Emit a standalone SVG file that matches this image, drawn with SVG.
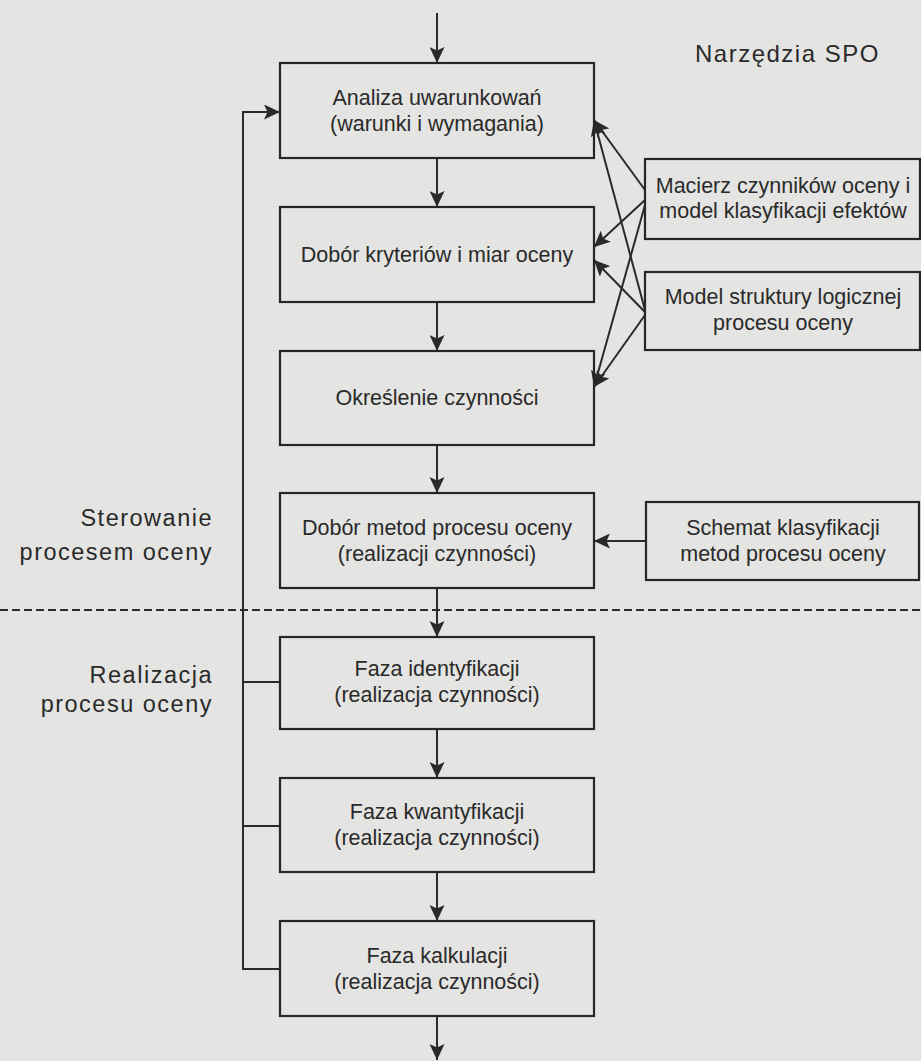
<svg xmlns="http://www.w3.org/2000/svg" width="921" height="1061" viewBox="0 0 921 1061">
  <defs>
    <style>
      .box { fill: none; stroke: #262626; stroke-width: 2.2; }
      .conn { fill: none; stroke: #2a2a2a; stroke-width: 2; }
      .dash { fill: none; stroke: #2a2a2a; stroke-width: 1.8; stroke-dasharray: 8 4; }
      .t { font-family: "Liberation Sans", Arial, sans-serif; font-size: 21.5px; fill: #2a2a2a; text-anchor: middle; }
      .lab { font-family: "Liberation Sans", Arial, sans-serif; font-size: 23.5px; fill: #2a2a2a; letter-spacing: 1.5px; }
    </style>
    <marker id="arr" markerUnits="userSpaceOnUse" markerWidth="17" markerHeight="15" refX="16" refY="7.5" orient="auto">
      <path d="M0,0 L16,7.5 L0,15 L3.5,7.5 z" fill="#2a2a2a"/>
    </marker>
  </defs>

  <rect x="0" y="0" width="921" height="1061" fill="#e4e4e2"/>

  <!-- section labels -->
  <text class="lab" x="695" y="62" style="font-size:24px">Narzędzia SPO</text>
  <text class="lab" x="213" y="526" text-anchor="end">Sterowanie</text>
  <text class="lab" x="213" y="560" text-anchor="end">procesem oceny</text>
  <text class="lab" x="213" y="683" text-anchor="end">Realizacja</text>
  <text class="lab" x="213" y="712" text-anchor="end">procesu oceny</text>

  <!-- phase separator -->
  <line class="dash" x1="0" y1="610" x2="921" y2="610"/>

  <!-- connectors -->
  <g id="connectors">
    <line class="conn" x1="437" y1="13" x2="437" y2="63" marker-end="url(#arr)"/>
    <line class="conn" x1="437" y1="158" x2="437" y2="207" marker-end="url(#arr)"/>
    <line class="conn" x1="437" y1="302" x2="437" y2="351" marker-end="url(#arr)"/>
    <line class="conn" x1="437" y1="445" x2="437" y2="493" marker-end="url(#arr)"/>
    <line class="conn" x1="437" y1="588" x2="437" y2="637" marker-end="url(#arr)"/>
    <line class="conn" x1="437" y1="729" x2="437" y2="778" marker-end="url(#arr)"/>
    <line class="conn" x1="437" y1="872" x2="437" y2="921" marker-end="url(#arr)"/>
    <line class="conn" x1="437" y1="1016" x2="437" y2="1060" marker-end="url(#arr)"/>

    <!-- feedback loop -->
    <polyline class="conn" points="280,969 243,969 243,112 280,112" marker-end="url(#arr)"/>
    <line class="conn" x1="280" y1="682" x2="243" y2="682"/>
    <line class="conn" x1="280" y1="826" x2="243" y2="826"/>

    <!-- tool inputs -->
    <line class="conn" x1="645" y1="190" x2="594" y2="120" marker-end="url(#arr)"/>
    <line class="conn" x1="645" y1="200" x2="594" y2="247" marker-end="url(#arr)"/>
    <line class="conn" x1="645" y1="205" x2="594" y2="387" marker-end="url(#arr)"/>
    <line class="conn" x1="645" y1="310" x2="594" y2="120" marker-end="url(#arr)"/>
    <line class="conn" x1="645" y1="312" x2="594" y2="260" marker-end="url(#arr)"/>
    <line class="conn" x1="645" y1="315" x2="594" y2="387" marker-end="url(#arr)"/>
    <line class="conn" x1="646" y1="541" x2="594" y2="541" marker-end="url(#arr)"/>
  </g>

  <!-- process steps -->
  <g id="analiza">
    <rect class="box" x="280" y="63" width="314" height="95"/>
    <text class="t" x="437" y="105">Analiza uwarunkowań</text>
    <text class="t" x="437" y="131">(warunki i wymagania)</text>
  </g>
  <g id="kryteria">
    <rect class="box" x="280" y="207" width="314" height="95"/>
    <text class="t" x="437" y="262">Dobór kryteriów i miar oceny</text>
  </g>
  <g id="czynnosci">
    <rect class="box" x="280" y="351" width="314" height="94"/>
    <text class="t" x="437" y="405">Określenie czynności</text>
  </g>
  <g id="metody">
    <rect class="box" x="280" y="493" width="314" height="95"/>
    <text class="t" x="437" y="535">Dobór metod procesu oceny</text>
    <text class="t" x="437" y="561">(realizacji czynności)</text>
  </g>
  <g id="identyfikacja">
    <rect class="box" x="280" y="637" width="314" height="92"/>
    <text class="t" x="437" y="676">Faza identyfikacji</text>
    <text class="t" x="437" y="702">(realizacja czynności)</text>
  </g>
  <g id="kwantyfikacja">
    <rect class="box" x="280" y="778" width="314" height="94"/>
    <text class="t" x="437" y="819">Faza kwantyfikacji</text>
    <text class="t" x="437" y="845">(realizacja czynności)</text>
  </g>
  <g id="kalkulacja">
    <rect class="box" x="280" y="921" width="314" height="95"/>
    <text class="t" x="437" y="963">Faza kalkulacji</text>
    <text class="t" x="437" y="989">(realizacja czynności)</text>
  </g>

  <!-- tools -->
  <g id="macierz">
    <rect class="box" x="645" y="159" width="275" height="80"/>
    <text class="t" x="783" y="193">Macierz czynników oceny i</text>
    <text class="t" x="783" y="218">model klasyfikacji efektów</text>
  </g>
  <g id="model">
    <rect class="box" x="645" y="272" width="275" height="78"/>
    <text class="t" x="783" y="304">Model struktury logicznej</text>
    <text class="t" x="783" y="330">procesu oceny</text>
  </g>
  <g id="schemat">
    <rect class="box" x="646" y="502" width="273" height="78"/>
    <text class="t" x="783" y="535">Schemat klasyfikacji</text>
    <text class="t" x="783" y="561">metod procesu oceny</text>
  </g>
</svg>
